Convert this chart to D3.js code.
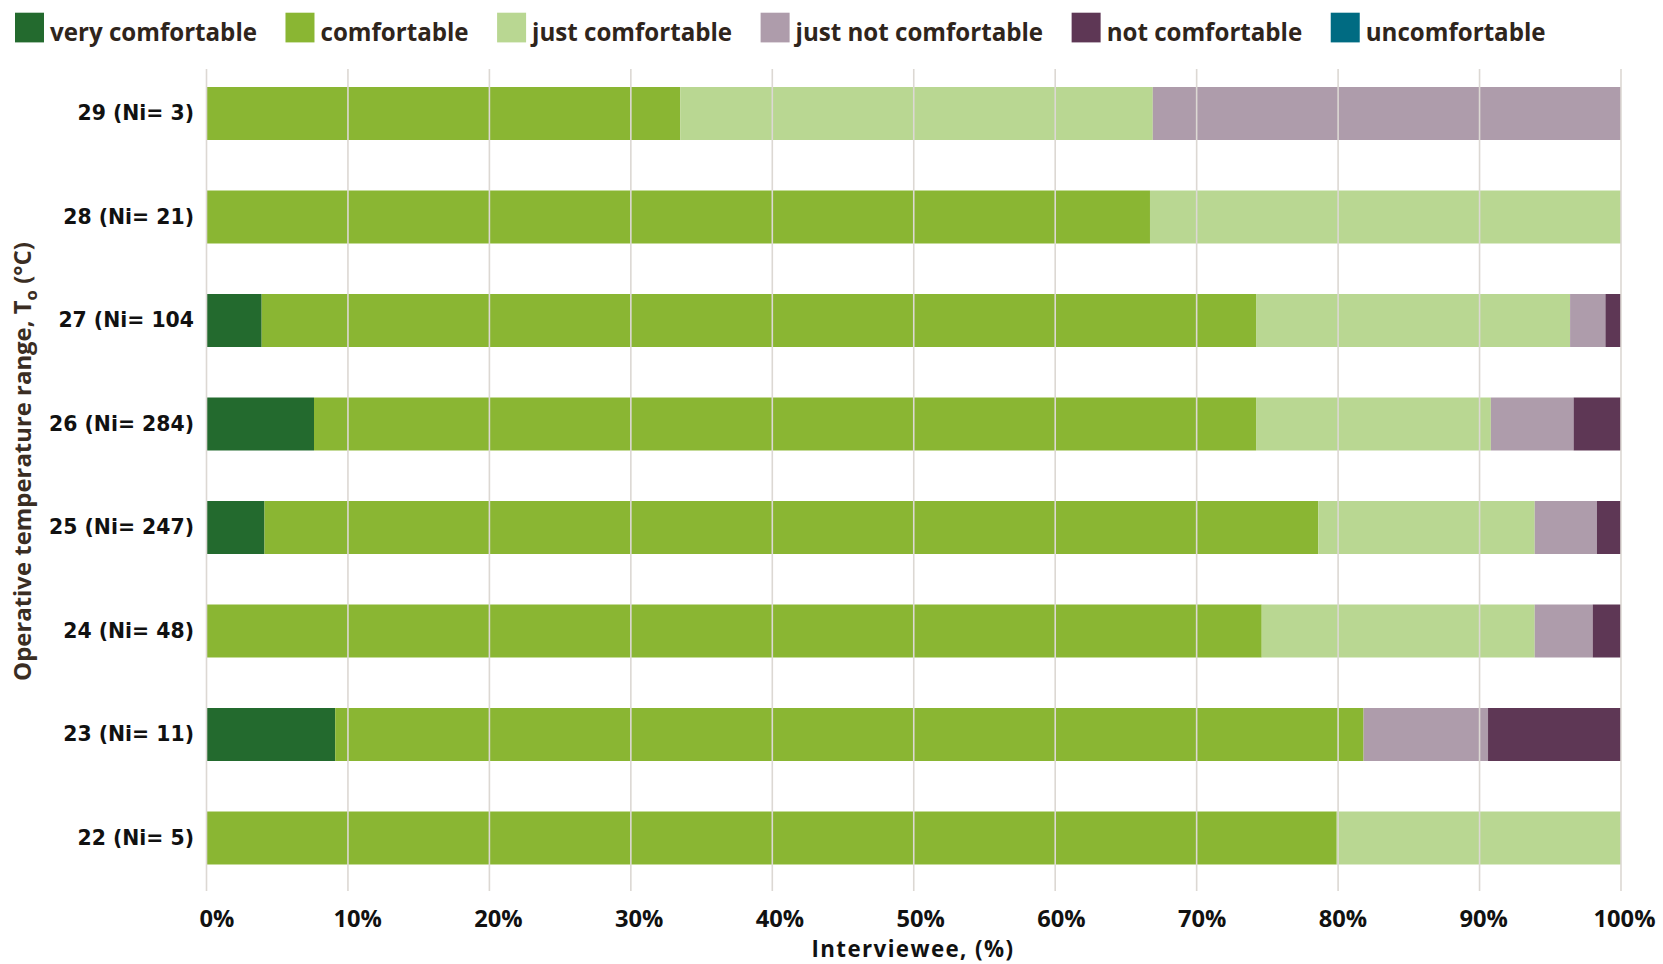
<!DOCTYPE html>
<html>
<head>
<meta charset="utf-8">
<script src="https://cdn.jsdelivr.net/npm/d3@7/dist/d3.min.js"></script>
<style>
  html, body { margin: 0; padding: 0; background: #fff; }
  svg { display: block; }
</style>
</head>
<body>
<svg id="chart" width="1663" height="964"></svg>
<script>
// ---------- data ----------
const categories = ["29 (Ni= 3)", "28 (Ni= 21)", "27 (Ni= 104", "26 (Ni= 284)", "25 (Ni= 247)", "24 (Ni= 48)", "23 (Ni= 11)", "22 (Ni= 5)"];
const seriesNames = ["very comfortable", "comfortable", "just comfortable", "just not comfortable", "not comfortable", "uncomfortable"];
const veryComfortable    = [0,    0,    3.9,  7.6,  4.1,  0,    9.1,  0];
const comfortable        = [33.5, 66.7, 70.3, 66.6, 74.5, 74.6, 72.7, 79.9];
const justComfortable    = [33.4, 33.3, 22.2, 16.6, 15.3, 19.3, 0,    20.1];
const justNotComfortable = [33.1, 0,    2.5,  5.85, 4.4,  4.1,  8.8,  0];
const notComfortable     = [0,    0,    1.1,  3.35, 1.7,  2.0,  9.4,  0];
const uncomfortable      = [0,    0,    0,    0,    0,    0,    0,    0];
const xTicks = [0, 10, 20, 30, 40, 50, 60, 70, 80, 90, 100];
const xTickLabels = ["0%", "10%", "20%", "30%", "40%", "50%", "60%", "70%", "80%", "90%", "100%"];
const colors = ["#236a2e", "#8ab633", "#b9d792", "#ae9cab", "#5e3755", "#006b82"];

const seriesValues = [veryComfortable, comfortable, justComfortable, justNotComfortable, notComfortable, uncomfortable];
const table = categories.map((c, i) => {
  const row = { category: c };
  seriesNames.forEach((s, j) => row[s] = seriesValues[j][i]);
  return row;
});

// ---------- layout ----------
const svg = d3.select("#chart");
const x = d3.scaleLinear().domain([0, 100]).range([206.5, 1621]);
const xLabel = d3.scaleLinear().domain([0, 100]).range([216.5, 1624]);
const y = d3.scaleBand().domain(categories).range([61.75, 889.75]).paddingInner(0.488).paddingOuter(0.244);
const color = d3.scaleOrdinal().domain(seriesNames).range(colors);

function fitWidth(sel, target) {
  const w = sel.node().getComputedTextLength();
  const fs = parseFloat(sel.attr("font-size"));
  const nfs = fs * target / w;
  sel.attr("font-size", nfs.toFixed(2));
  return nfs;
}

// ---------- bars ----------
const stack = d3.stack().keys(seriesNames)(table);
svg.append("g").selectAll("g")
  .data(stack)
  .join("g")
  .attr("fill", d => color(d.key))
  .selectAll("rect")
  .data(d => d)
  .join("rect")
  .attr("x", d => x(d[0]))
  .attr("width", d => Math.max(0, x(d[1]) - x(d[0])))
  .attr("y", d => y(d.data.category))
  .attr("height", y.bandwidth());

// ---------- gridlines (on top of bars) ----------
svg.append("g").selectAll("line")
  .data(xTicks)
  .join("line")
  .attr("x1", d => x(d)).attr("x2", d => x(d))
  .attr("y1", 69).attr("y2", 891)
  .attr("stroke", "#dcd8d3")
  .attr("stroke-width", 1.6);

// ---------- x axis labels ----------
const xAxis = d3.axisBottom(xLabel).tickValues(xTicks).tickFormat((d, i) => xTickLabels[i]).tickSize(0).tickPadding(0);
const gx = svg.append("g").attr("transform", "translate(0,911)").call(xAxis);
gx.select(".domain").remove();
gx.selectAll("text")
  .attr("dy", null)
  .attr("y", 16)
  .attr("font-family", "'Open Sans', sans-serif")
  .attr("font-weight", 700)
  .attr("font-size", 23.7)
  .attr("fill", "#111");

// ---------- y axis labels ----------
const yAxis = d3.axisLeft(y).tickSize(0).tickPadding(0);
const gy = svg.append("g").attr("transform", "translate(194,0)").call(yAxis);
gy.select(".domain").remove();
gy.selectAll("text")
  .attr("font-family", "'DejaVu Sans', sans-serif")
  .attr("font-weight", 700)
  .attr("font-size", 20.4)
  .attr("fill", "#111");

// ---------- axis titles ----------
const xt = svg.append("text")
  .attr("x", 913).attr("y", 957.3)
  .attr("text-anchor", "middle")
  .attr("font-family", "'Open Sans', sans-serif")
  .attr("font-weight", 700)
  .attr("font-size", 22.3)
  .attr("fill", "#111")
  .text("Interviewee, (%)");
{
  const w = xt.node().getComputedTextLength();
  xt.attr("letter-spacing", Math.max(0, (203 - w) / 16).toFixed(2));
}

const yt = svg.append("text")
  .attr("transform", "translate(31,461.5) rotate(-90)")
  .attr("text-anchor", "middle")
  .attr("font-family", "'Open Sans', sans-serif")
  .attr("font-weight", 700)
  .attr("font-size", 24)
  .attr("fill", "#3a2d23");
yt.append("tspan").text("Operative temperature range, T");
yt.append("tspan").attr("font-size", "70%").attr("dy", 6).text("o");
yt.append("tspan").attr("dy", -6).text(" (°C)");
fitWidth(yt, 439);

// ---------- legend ----------
const legend = svg.append("g");
// size fitted on the first label's width in the reference
const probe = legend.append("text")
  .attr("font-family", "'Open Sans', sans-serif")
  .attr("font-weight", 700)
  .attr("font-size", 24)
  .text(seriesNames[0]);
const legendFs = fitWidth(probe, 207);
probe.remove();
let lx = 15;
seriesNames.forEach((name) => {
  legend.append("rect")
    .attr("x", lx).attr("y", 12.7)
    .attr("width", 29).attr("height", 29.7)
    .attr("fill", color(name));
  const t = legend.append("text")
    .attr("x", lx + 35).attr("y", 40.5)
    .attr("font-family", "'Open Sans', sans-serif")
    .attr("font-weight", 700)
    .attr("font-size", legendFs.toFixed(2))
    .attr("fill", "#2f251c")
    .text(name);
  const w = t.node().getComputedTextLength();
  lx += 35 + w + 28.5;
});
</script>
</body>
</html>
